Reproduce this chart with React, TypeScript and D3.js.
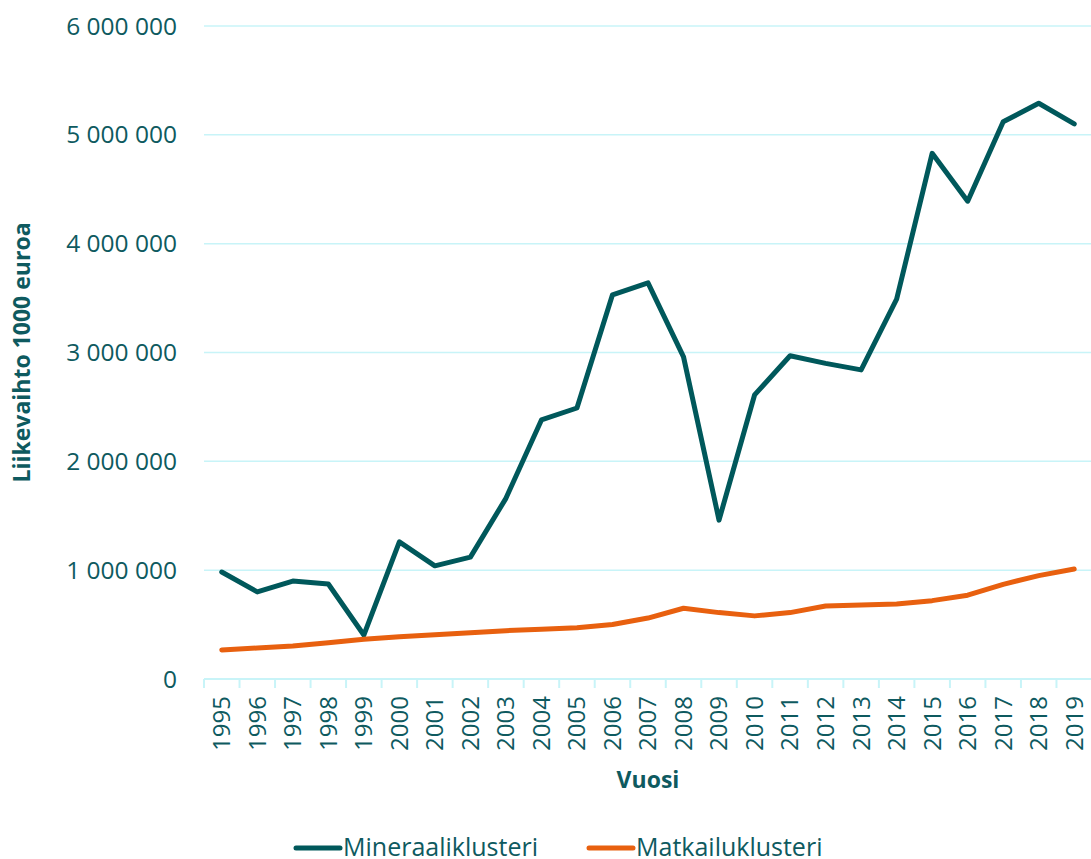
import { scaleBand, scaleLinear, line, formatLocale } from 'd3';

const years = ['1995', '1996', '1997', '1998', '1999', '2000', '2001', '2002', '2003', '2004', '2005', '2006', '2007', '2008', '2009', '2010', '2011', '2012', '2013', '2014', '2015', '2016', '2017', '2018', '2019'];
const mineraali = [983000, 800000, 900000, 873000, 404000, 1260000, 1040000, 1120000, 1660000, 2380000, 2490000, 3530000, 3640000, 2960000, 1460000, 2610000, 2970000, 2900000, 2840000, 3490000, 4830000, 4390000, 5120000, 5290000, 5100000];
const matkailu = [267000, 285000, 303000, 334000, 365000, 389000, 407000, 426000, 444000, 457000, 470000, 500000, 560000, 650000, 610000, 580000, 610000, 670000, 680000, 690000, 720000, 770000, 870000, 950000, 1010000];
const yTicks = [0, 1000000, 2000000, 3000000, 4000000, 5000000, 6000000];
const seriesNames = ['Mineraaliklusteri', 'Matkailuklusteri'];

const TEAL = '#00585b';
const ORANGE = '#e8600f';
const GRID = '#c8f4f8';
const TEXT = '#0e5a5f';
const FONT = '"Open Sans", sans-serif';

const fi = formatLocale({ decimal: ',', thousands: ' ', grouping: [3], currency: ['', ' €'] });
const fmt = fi.format(',d');

export default function App() {
  const width = 1091;
  const height = 859;
  const left = 204;
  const right = 1092;
  const top = 26;
  const bottom = 679;

  const x = scaleBand<string>().domain(years).range([left, right]).padding(0);
  const y = scaleLinear().domain([0, 6000000]).range([bottom, top]);
  const cx = (d: string) => (x(d) as number) + x.bandwidth() / 2;

  const path = line<number>()
    .x((_, i) => cx(years[i]))
    .y((v) => y(v));

  const series = [
    { name: seriesNames[0], values: mineraali, color: TEAL },
    { name: seriesNames[1], values: matkailu, color: ORANGE },
  ];

  return (
    <svg width={width} height={height} style={{ position: 'absolute', left: 0, top: 0 }} fontFamily={FONT}>
      <rect width={width} height={height} fill="#fff" />
      {yTicks.map((t) => (
        <g key={t}>
          {t > 0 && <line x1={left} x2={width} y1={y(t)} y2={y(t)} stroke={GRID} strokeWidth={1.5} />}
          <text x={177} y={y(t)} dy="0.35em" textAnchor="end" fontSize={24.5} fill={TEXT}>
            {fmt(t)}
          </text>
        </g>
      ))}
      <line x1={left} x2={width} y1={bottom} y2={bottom} stroke={GRID} strokeWidth={2} />
      {years.map((yr) => (
        <line key={'t' + yr} x1={x(yr) as number} x2={x(yr) as number} y1={bottom} y2={bottom + 9} stroke={GRID} strokeWidth={2} />
      ))}
      <line x1={right} x2={right} y1={bottom} y2={bottom + 9} stroke={GRID} strokeWidth={2} />
      {years.map((yr) => (
        <text
          key={'l' + yr}
          transform={`translate(${cx(yr)},${bottom + 17}) rotate(-90)`}
          textAnchor="end"
          dy="0.35em"
          fontSize={24}
          fill={TEXT}
        >
          {yr}
        </text>
      ))}
      <text x={648} y={788} textAnchor="middle" fontSize={23} fontWeight="bold" fill={TEXT}>
        Vuosi
      </text>
      <text transform={`translate(22,${(top + bottom) / 2}) rotate(-90)`} textAnchor="middle" dy="0.35em" fontSize={23} fontWeight="bold" fill={TEXT}>
        Liikevaihto 1000 euroa
      </text>
      {series.map((s) => (
        <path key={s.name} d={path(s.values) || ''} fill="none" stroke={s.color} strokeWidth={5} strokeLinejoin="round" strokeLinecap="round" />
      ))}
      {series.map((s, i) => {
        const lx = i === 0 ? 296 : 589;
        return (
          <g key={'leg' + s.name}>
            <line x1={lx} x2={lx + 44} y1={848} y2={848} stroke={s.color} strokeWidth={5} strokeLinecap="round" />
            <text x={lx + 47} y={847} dy="0.35em" fontSize={25} fill={TEXT}>
              {s.name}
            </text>
          </g>
        );
      })}
    </svg>
  );
}
